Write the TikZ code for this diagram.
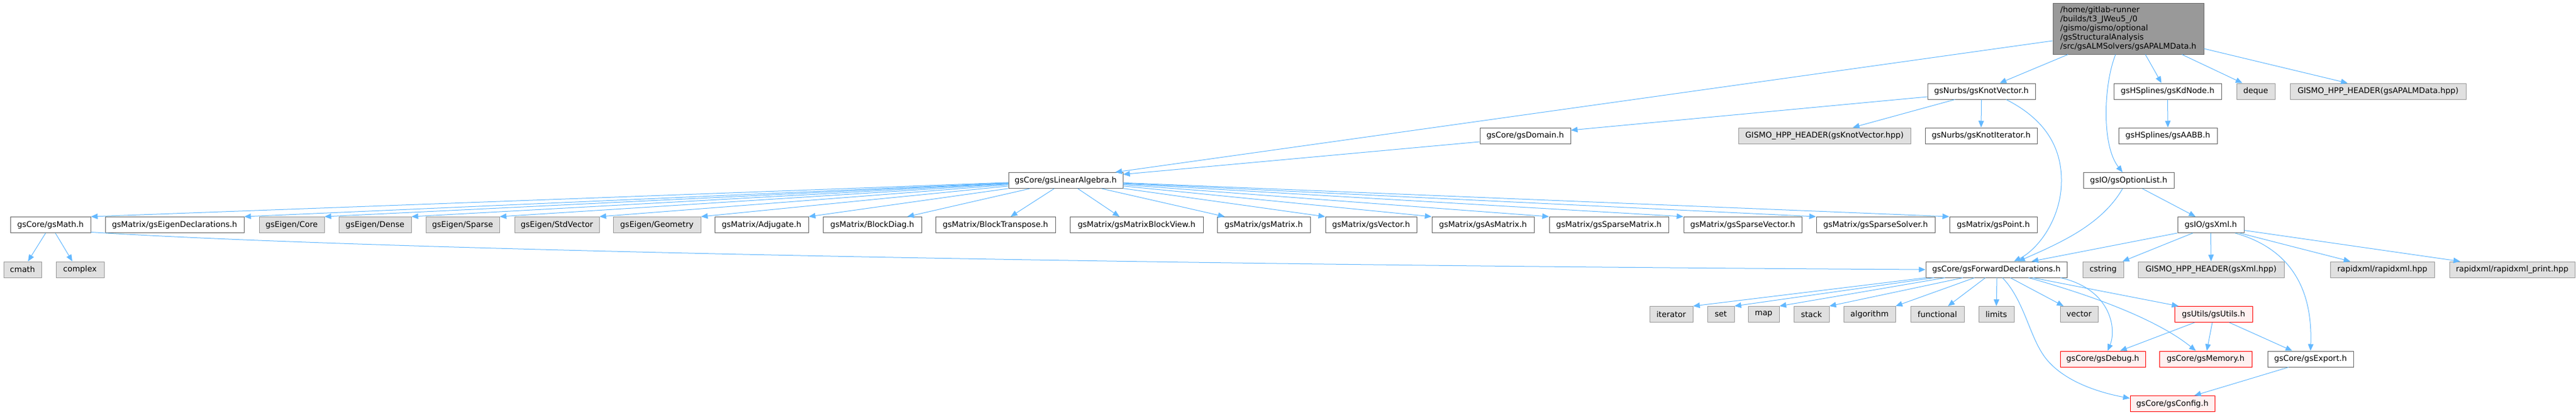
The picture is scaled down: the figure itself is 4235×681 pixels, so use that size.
\documentclass[tikz,border=0pt]{standalone}
\usepackage{fontspec}
\setmainfont{DejaVu Sans}
\usetikzlibrary{arrows.meta,calc}
\definecolor{edgec}{HTML}{63B8FF}
\definecolor{wborder}{HTML}{666666}
\definecolor{gfill}{HTML}{E0E0E0}
\definecolor{gborder}{HTML}{999999}
\definecolor{rfill}{HTML}{FFF0F0}
\definecolor{rborder}{HTML}{FF0000}
\definecolor{mfill}{HTML}{999999}
\newcommand\mynode[6]{\node[#1,minimum width={(#4)-(#3)}] (#2) at ({((#3)+(#4))/2},#5) {#6};}
\begin{document}
\begin{tikzpicture}[x=1pt,y=-1pt,
  box/.style={draw,inner sep=0pt,minimum height=26pt,line width=1pt,font=\fontsize{13}{14.8}\selectfont},
  wbox/.style={box,fill=white,draw=wborder},
  gbox/.style={box,fill=gfill,draw=gborder},
  rbox/.style={box,fill=rfill,draw=rborder},
  mbox/.style={box,fill=mfill,draw=wborder,align=left,minimum height=84pt},
  edge/.style={draw=edgec,line width=1pt,-{Triangle[length=11pt,width=9pt]}}]
\path[use as bounding box] (0,0) rectangle (4235,681);
% nodes
\mynode{mbox}{main}{3375}{3623}{47}{/home/gitlab-runner\\/builds/t3\_JWeu5\_/0\\/gismo/gismo/optional\\/gsStructuralAnalysis\\/src/gsALMSolvers/gsAPALMData.h}
% row 2
\mynode{wbox}{kv}{3169}{3346}{150}{gsNurbs/gsKnotVector.h}
\mynode{wbox}{kd}{3475}{3652}{150}{gsHSplines/gsKdNode.h}
\mynode{gbox}{deque}{3677}{3740}{150}{deque}
\mynode{gbox}{apalm}{3765}{4054}{150}{GISMO\_HPP\_HEADER(gsAPALMData.hpp)}
% row 3
\mynode{wbox}{domain}{2433}{2582}{223}{gsCore/gsDomain.h}
\mynode{gbox}{kvhpp}{2858}{3141}{223}{GISMO\_HPP\_HEADER(gsKnotVector.hpp)}
\mynode{wbox}{kit}{3165}{3349}{223}{gsNurbs/gsKnotIterator.h}
\mynode{wbox}{aabb}{3483}{3645}{223}{gsHSplines/gsAABB.h}
% row 4
\mynode{wbox}{linalg}{1658}{1846}{296.5}{gsCore/gsLinearAlgebra.h}
\mynode{wbox}{optlist}{3425}{3574}{296.5}{gsIO/gsOptionList.h}
% row 5
\mynode{wbox}{math}{17}{149}{369.5}{gsCore/gsMath.h}
\mynode{wbox}{eigdecl}{173}{401}{369.5}{gsMatrix/gsEigenDeclarations.h}
\mynode{gbox}{ecore}{426}{533}{369.5}{gsEigen/Core}
\mynode{gbox}{edense}{557}{676}{369.5}{gsEigen/Dense}
\mynode{gbox}{esparse}{700}{821}{369.5}{gsEigen/Sparse}
\mynode{gbox}{estd}{846}{985}{369.5}{gsEigen/StdVector}
\mynode{gbox}{egeom}{1008}{1152}{369.5}{gsEigen/Geometry}
\mynode{wbox}{adj}{1175}{1329}{369.5}{gsMatrix/Adjugate.h}
\mynode{wbox}{bdiag}{1353}{1515}{369.5}{gsMatrix/BlockDiag.h}
\mynode{wbox}{btrans}{1538}{1735}{369.5}{gsMatrix/BlockTranspose.h}
\mynode{wbox}{mbv}{1759}{1978}{369.5}{gsMatrix/gsMatrixBlockView.h}
\mynode{wbox}{mat}{2001}{2154}{369.5}{gsMatrix/gsMatrix.h}
\mynode{wbox}{vec}{2179}{2329}{369.5}{gsMatrix/gsVector.h}
\mynode{wbox}{asmat}{2354}{2522}{369.5}{gsMatrix/gsAsMatrix.h}
\mynode{wbox}{spmat}{2547}{2743}{369.5}{gsMatrix/gsSparseMatrix.h}
\mynode{wbox}{spvec}{2768}{2962}{369.5}{gsMatrix/gsSparseVector.h}
\mynode{wbox}{spsolv}{2986}{3181}{369.5}{gsMatrix/gsSparseSolver.h}
\mynode{wbox}{point}{3205}{3349}{369.5}{gsMatrix/gsPoint.h}
\mynode{wbox}{xml}{3580}{3689}{369.5}{gsIO/gsXml.h}
% row 6
\mynode{gbox}{cmath}{6}{68}{443}{cmath}
\mynode{gbox}{complex}{92}{171}{443}{complex}
\mynode{wbox}{fwd}{3166}{3398}{443}{gsCore/gsForwardDeclarations.h}
\mynode{gbox}{cstring}{3424}{3491}{443}{cstring}
\mynode{gbox}{xmlhpp}{3515}{3755}{443}{GISMO\_HPP\_HEADER(gsXml.hpp)}
\mynode{gbox}{rapid}{3831}{4002}{443}{rapidxml/rapidxml.hpp}
\mynode{gbox}{rapidp}{4027}{4233}{443}{rapidxml/rapidxml\_print.hpp}
% row 7
\mynode{gbox}{iterator}{2712}{2783}{516.5}{iterator}
\mynode{gbox}{set}{2807}{2851}{516.5}{set}
\mynode{gbox}{map}{2874}{2925}{516.5}{map}
\mynode{gbox}{stack}{2949}{3007}{516.5}{stack}
\mynode{gbox}{algorithm}{3031}{3116}{516.5}{algorithm}
\mynode{gbox}{functional}{3141}{3229}{516.5}{functional}
\mynode{gbox}{limits}{3253}{3311}{516.5}{limits}
\mynode{gbox}{vector}{3387}{3449}{516.5}{vector}
\mynode{rbox}{utils}{3575}{3703}{516.5}{gsUtils/gsUtils.h}
% row 8
\mynode{rbox}{debug}{3387}{3527}{590}{gsCore/gsDebug.h}
\mynode{rbox}{memory}{3550}{3702}{590}{gsCore/gsMemory.h}
\mynode{wbox}{export}{3728}{3869}{590}{gsCore/gsExport.h}
% row 9
\mynode{rbox}{config}{3502}{3641}{663.5}{gsCore/gsConfig.h}
% edges from main
\draw[edge] ($(main.west)+(0,20)$) -- ($(linalg.north east)+(-13,0)$);
\draw[edge] ($(main.south)+(-99,0)$) -- ($(kv.north)+(30,0)$);
\draw[edge] ($(main.south)+(-21,0)$) .. controls (3458,140) and (3455,240) .. ($(optlist.north)+(-10,0)$);
\draw[edge] ($(main.south)+(28,0)$) -- ($(kd.north)+(-10,0)$);
\draw[edge] ($(main.south)+(88,0)$) -- ($(deque.north)+(-22,0)$);
\draw[edge] ($(main.east)+(0,33)$) -- ($(apalm.north)+(-50,0)$);
% knot vector
\draw[edge] ($(kv.west)+(0,9)$) -- ($(domain.east)+(0,-9)$);
\draw[edge] ($(kv.south)+(-43.5,0)$) -- ($(kvhpp.north)+(46.5,0)$);
\draw[edge] (kv.south) -- (kit.north);
\draw[edge] ($(kv.south)+(40.5,0)$) .. controls (3370,200) and (3389,250) .. (3389,297) .. controls (3389,360) and (3350,410) .. ($(fwd.north)+(29,0)$);
\draw[edge] ($(domain.west)+(0,10)$) -- ($(linalg.east)+(0,-10)$);
\draw[edge] (kd.south) -- (aabb.north);
% option list and xml
\draw[edge] ($(optlist.south)+(-10,0)$) .. controls (3455,370) and (3385,400) .. ($(fwd.north)+(36,0)$);
\draw[edge] ($(optlist.south)+(22.5,0)$) -- ($(xml.north)+(-25,0)$);
\draw[edge] (xml.south west) -- ($(fwd.north)+(58,0)$);
\draw[edge] ($(xml.south)+(-29.5,0)$) -- ($(cstring.north)+(32,0)$);
\draw[edge] (xml.south) -- (xmlhpp.north);
\draw[edge] ($(xml.south)+(47.5,0)$) -- ($(rapid.north)+(-52.5,0)$);
\draw[edge] ($(xml.east)+(0,9)$) -- ($(rapidp.north)+(-85.5,0)$);
\draw[edge] ($(xml.south)+(40,0)$) .. controls (3770,410) and (3802,480) .. (export.north);
% linear algebra
\foreach \t in {math,eigdecl,ecore,edense,esparse,estd,egeom,adj}
  \draw[edge] (linalg) -- (\t.north east);
\draw[edge] (linalg) -- ($(bdiag.north east)+(-24,0)$);
\draw[edge] ($(linalg.south)+(-19,0)$) -- ($(btrans.north)+(25,0)$);
\draw[edge] ($(linalg.south)+(20,0)$) -- ($(mbv.north)+(-28,0)$);
\draw[edge] (linalg) -- ($(mat.north west)+(13,0)$);
\foreach \t in {vec,asmat,spmat,spvec,spsolv,point}
  \draw[edge] (linalg) -- (\t.north west);
% math
\draw[edge] ($(math.south)+(-8,0)$) -- ($(cmath.north)+(9,0)$);
\draw[edge] ($(math.south)+(8,0)$) -- ($(complex.north)+(-12.5,0)$);
\draw[edge] ($(math.east)+(0,12)$) .. controls (600,410) and (1800,435) .. (fwd.west);
% forward declarations
\draw[edge] (fwd.south west) -- (iterator.north east);
\draw[edge] ($(fwd.south west)+(14,0)$) -- (set.north east);
\draw[edge] ($(fwd.south west)+(32,0)$) -- (map.north east);
\draw[edge] ($(fwd.south)+(-55,0)$) -- (stack.north east);
\draw[edge] ($(fwd.south)+(-36,0)$) -- (algorithm.north east);
\draw[edge] ($(fwd.south)+(-18,0)$) -- ($(functional.north east)+(-27,0)$);
\draw[edge] ($(fwd.south)+(1,0)$) -- (limits.north);
\draw[edge] ($(fwd.south)+(23,0)$) -- ($(vector.north west)+(6,0)$);
\draw[edge] ($(fwd.south)+(10,0)$) .. controls (3325,490) and (3335,545) .. (3357,580) .. controls (3385,625) and (3450,645) .. ($(config.west)+(0,-9)$);
\draw[edge] ($(fwd.south)+(53,0)$) .. controls (3420,480) and (3540,520) .. ($(memory.north)+(-16,0)$);
\draw[edge] ($(fwd.south)+(60,0)$) -- ($(utils.north west)+(7,0)$);
\draw[edge] ($(fwd.south east)+(-11,0)$) .. controls (3470,475) and (3480,540) .. ($(debug.north)+(8,0)$);
% utils and export
\draw[edge] ($(utils.south)+(-31,0)$) -- ($(debug.north east)+(-42,0)$);
\draw[edge] ($(utils.south)+(-2,0)$) -- ($(memory.north)+(2,0)$);
\draw[edge] ($(utils.south)+(26,0)$) -- ($(export.north)+(-30,0)$);
\draw[edge] ($(export.south)+(-36,0)$) -- ($(config.north)+(36,0)$);
\end{tikzpicture}
\end{document}
